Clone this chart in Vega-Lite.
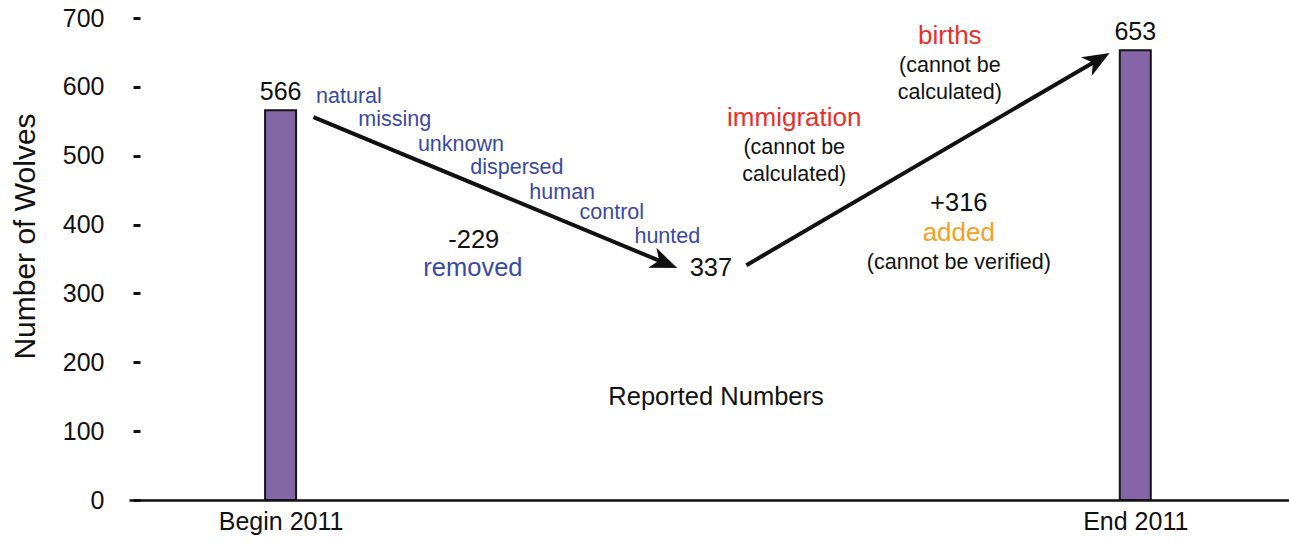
{
  "$schema": "https://vega.github.io/schema/vega-lite/v6.json",
  "width": 1160,
  "height": 482,
  "autosize": {"type": "none"},
  "padding": {"left": 129, "top": 18, "right": 0, "bottom": 43},
  "background": "white",
  "config": {"view": {"stroke": null}, "font": "Liberation Sans", "text": {"font": "Liberation Sans"}},
  "datasets": {
    "counts": [
      {"stage": 0, "period": "Begin 2011", "wolves": 566},
      {"stage": 2, "period": "End 2011", "wolves": 653}
    ],
    "arrows": [
      {"arrow": "removed", "step": 1, "stage": 0.077, "wolves": 556},
      {"arrow": "removed", "step": 2, "stage": 0.896, "wolves": 345},
      {"arrow": "added", "step": 1, "stage": 1.09, "wolves": 341},
      {"arrow": "added", "step": 2, "stage": 1.909, "wolves": 638}
    ],
    "heads": [
      {"arrow": "removed", "stage": 0.928, "wolves": 337},
      {"arrow": "added", "stage": 1.94, "wolves": 649}
    ],
    "notes": [
      {"stage": 0.160, "wolves": 585, "text": "natural", "role": "cause"},
      {"stage": 0.267, "wolves": 552, "text": "missing", "role": "cause"},
      {"stage": 0.422, "wolves": 515, "text": "unknown", "role": "cause"},
      {"stage": 0.553, "wolves": 482, "text": "dispersed", "role": "cause"},
      {"stage": 0.659, "wolves": 446, "text": "human", "role": "cause"},
      {"stage": 0.775, "wolves": 417, "text": "control", "role": "cause"},
      {"stage": 0.905, "wolves": 382, "text": "hunted", "role": "cause"},
      {"stage": 0.452, "wolves": 378, "text": "-229", "role": "change"},
      {"stage": 0.450, "wolves": 337, "text": "removed", "role": "loss"},
      {"stage": 1.007, "wolves": 337, "text": "337", "role": "change"},
      {"stage": 1.202, "wolves": 555, "text": "immigration", "role": "gain"},
      {"stage": 1.202, "wolves": 511, "text": "(cannot be", "role": "caveat"},
      {"stage": 1.202, "wolves": 472, "text": "calculated)", "role": "caveat"},
      {"stage": 1.566, "wolves": 674, "text": "births", "role": "gain"},
      {"stage": 1.566, "wolves": 630, "text": "(cannot be", "role": "caveat"},
      {"stage": 1.566, "wolves": 591, "text": "calculated)", "role": "caveat"},
      {"stage": 1.587, "wolves": 431, "text": "+316", "role": "change"},
      {"stage": 1.587, "wolves": 388, "text": "added", "role": "added"},
      {"stage": 1.587, "wolves": 344, "text": "(cannot be verified)", "role": "caveat"},
      {"stage": 1.019, "wolves": 150, "text": "Reported Numbers", "role": "heading"}
    ]
  },
  "encoding": {
    "x": {
      "field": "stage", "type": "quantitative",
      "scale": {"domain": [-0.343, 2.348], "nice": false, "zero": false},
      "axis": {
        "values": [0, 2], "labelExpr": "datum.value == 0 ? 'Begin 2011' : 'End 2011'",
        "title": null, "grid": false, "ticks": false,
        "domainColor": "#111111", "domainWidth": 2.5,
        "labelFontSize": 25, "labelColor": "#111111", "labelPadding": 9, "labelFont": "Liberation Sans"
      }
    },
    "y": {
      "field": "wolves", "type": "quantitative",
      "scale": {"domain": [0, 700], "nice": false},
      "axis": {
        "values": [0, 100, 200, 300, 400, 500, 600, 700],
        "grid": false, "domain": false, "offset": -11,
        "tickSize": 7, "tickWidth": 3, "tickColor": "#111111",
        "labelFontSize": 25, "labelColor": "#111111", "labelPadding": 29, "labelFont": "Liberation Sans",
        "title": "Number of Wolves", "titleFontSize": 30, "titleFontWeight": "normal", "titleColor": "#111111",
        "titleFont": "Liberation Sans",
        "titleX": -115, "titleY": 218, "titleAngle": -90, "titleAlign": "center", "titleBaseline": "middle"
      }
    }
  },
  "layer": [
    {
      "data": {"name": "counts"},
      "mark": {"type": "bar", "width": 31, "fill": "#8466a6", "stroke": "#151515", "strokeWidth": 2}
    },
    {
      "data": {"name": "counts"},
      "mark": {"type": "text", "dy": -18, "fontSize": 25, "color": "#111111", "baseline": "middle", "align": "center"},
      "encoding": {"text": {"field": "wolves", "type": "quantitative"}}
    },
    {
      "data": {"name": "arrows"},
      "mark": {"type": "line", "strokeWidth": 4, "color": "#111111"},
      "encoding": {"detail": {"field": "arrow", "type": "nominal"}, "order": {"field": "step", "type": "quantitative"}}
    },
    {
      "data": {"name": "heads"},
      "transform": [{"filter": "datum.arrow == 'removed'"}],
      "mark": {"type": "point", "shape": "M0,0L-1,-0.4L-0.72,0L-1,0.4Z", "size": 2900, "angle": 22.4, "filled": true, "color": "#111111", "opacity": 1}
    },
    {
      "data": {"name": "heads"},
      "transform": [{"filter": "datum.arrow == 'added'"}],
      "mark": {"type": "point", "shape": "M0,0L-1,-0.4L-0.72,0L-1,0.4Z", "size": 2900, "angle": -30, "filled": true, "color": "#111111", "opacity": 1}
    },
    {
      "data": {"name": "notes"},
      "mark": {"type": "text", "baseline": "middle", "align": "center"},
      "encoding": {
        "text": {"field": "text", "type": "nominal"},
        "color": {
          "field": "role", "type": "nominal", "legend": null,
          "scale": {"domain": ["cause", "loss", "change", "gain", "caveat", "added", "heading"],
                    "range": ["#3a49a3", "#3a49a3", "#111111", "#e8302a", "#111111", "#f5a01f", "#111111"]}
        },
        "size": {
          "field": "role", "type": "nominal", "legend": null,
          "scale": {"type": "ordinal", "domain": ["cause", "loss", "change", "gain", "caveat", "added", "heading"],
                    "range": [21.5, 25.5, 25.5, 26, 21.5, 26, 25.5]}
        }
      }
    }
  ]
}
